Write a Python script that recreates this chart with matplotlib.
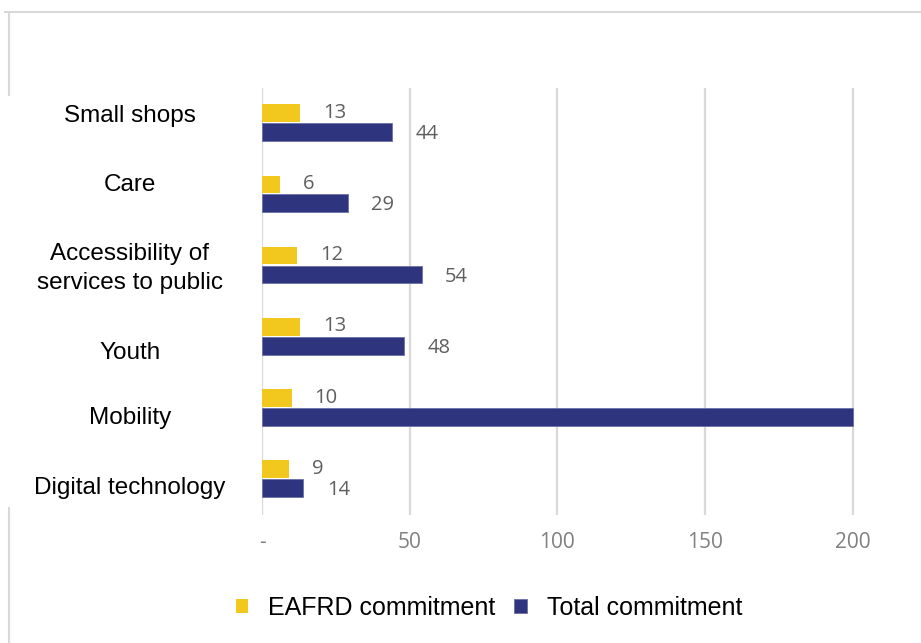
import matplotlib.pyplot as plt
from matplotlib.lines import Line2D
import numpy as np

categories = ["Small shops", "Care", "Accessibility of\nservices to public",
              "Youth", "Mobility", "Digital technology"]
eafrd = [13, 6, 12, 13, 10, 9]
total = [44, 29, 54, 48, 200, 14]
total_labels = [True, True, True, True, False, True]
xticks = [0, 50, 100, 150, 200]
xticklabels = ["-", "50", "100", "150", "200"]
# small vertical nudges of the category names (in category units)
label_shift = [0.11, 0.14, -0.04, -0.22, -0.14, -0.12]

yellow = "#F2C81E"
navy = "#2E357E"
num_color = "#5f5f5f"

fig = plt.figure(figsize=(9.21, 6.43), dpi=100)
ax = fig.add_axes([262 / 921, 1 - 515 / 643, (900 - 262) / 921, (515 - 88) / 643])

n = len(categories)
ypos = np.arange(n)[::-1]
h = 0.25
ax.barh(ypos + 0.145, eafrd, height=h, color=yellow, label="EAFRD commitment", zorder=3)
ax.barh(ypos - 0.12, total, height=h, color=navy, edgecolor="#6a70a8", linewidth=0.6,
        label="Total commitment", zorder=3)

ax.set_xlim(0, 216)
ax.set_ylim(-0.5, n - 0.5)

# value labels to the right of each bar
for y, e, t, show in zip(ypos, eafrd, total, total_labels):
    ax.text(e + 7.8, y + 0.15, str(e), va="center", ha="left", fontsize=14.5,
            color=num_color, family="Open Sans")
    if show:
        ax.text(t + 8.0, y - 0.15, str(t), va="center", ha="left", fontsize=14.5,
                color=num_color, family="Open Sans")

# category names, centred in the left margin
for y, name, dy in zip(ypos, categories, label_shift):
    ax.text(-44.8, y + dy, name, ha="center", va="center", fontsize=17.5,
            family="Liberation Sans", linespacing=1.42)

ax.set_yticks([])
ax.set_xticks(xticks)
ax.set_xticklabels(xticklabels, fontsize=15, color="#808080", family="Open Sans")
ax.tick_params(axis="x", length=0, pad=12)

ax.grid(axis="x", color="#d9d9d9", linewidth=1.6, zorder=0)
for s in ax.spines.values():
    s.set_visible(False)

# light outer frame
frame = "#d9d9d9"
fig.add_artist(Line2D([5 / 921, 1], [1 - 12 / 643] * 2, color=frame, lw=1.5))
fig.add_artist(Line2D([8.5 / 921] * 2, [1 - 12 / 643, 1 - 95 / 643], color=frame, lw=1.5))
fig.add_artist(Line2D([8.5 / 921] * 2, [1 - 508 / 643, 0], color=frame, lw=1.5))

fig.legend(loc="center", bbox_to_anchor=(0.531, 1 - 608 / 643), ncol=2, frameon=False,
           prop={"family": "Liberation Sans", "size": 18}, handlelength=0.5,
           handleheight=0.5, handletextpad=0.8, columnspacing=0.75)

fig.savefig("out.png", dpi=100)
